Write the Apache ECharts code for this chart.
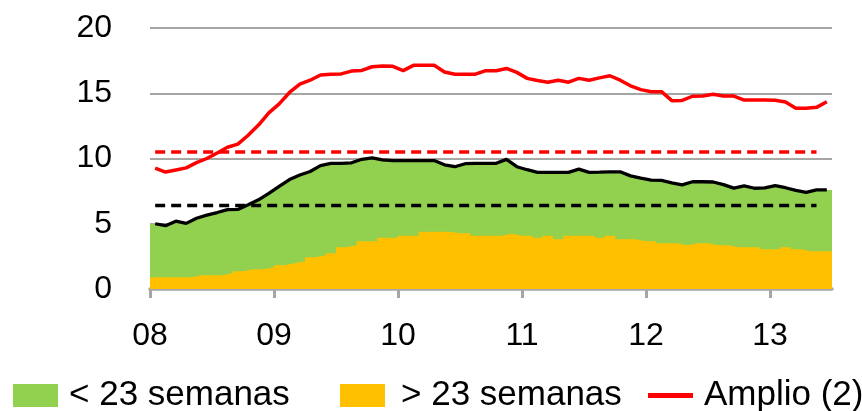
<!DOCTYPE html>
<html>
<head>
<meta charset="utf-8">
<script src="https://cdn.jsdelivr.net/npm/echarts@6/dist/echarts.min.js"></script>
<style>
  html, body { margin: 0; padding: 0; background: #fff; }
  #chart { width: 862px; height: 411px; }
</style>
</head>
<body>
<div id="chart"></div>
<script>
// datos mensuales, ene 2008 - jun 2013
var startYear = 2008;
var endYear = 2013.5;
var years = [2008, 2009, 2010, 2011, 2012, 2013];
var yearLabels = ['08', '09', '10', '11', '12', '13'];

// total (< 23 + > 23 semanas), linea negra
var total = [5.0, 4.85, 5.2, 5.03, 5.42, 5.66, 5.86, 6.08, 6.1, 6.46,
  6.83, 7.33, 7.86, 8.39, 8.74, 9.0, 9.45, 9.62, 9.63, 9.67,
  9.94, 10.05, 9.89, 9.84, 9.84, 9.84, 9.84, 9.84, 9.52, 9.37,
  9.6, 9.63, 9.63, 9.63, 9.93, 9.37, 9.14, 8.94, 8.94, 8.94,
  8.94, 9.19, 8.94, 8.95, 8.97, 8.98, 8.67, 8.5, 8.35, 8.32,
  8.14, 7.98, 8.22, 8.22, 8.2, 8.0, 7.73, 7.9, 7.72, 7.75,
  7.92, 7.76, 7.56, 7.4, 7.59, 7.59];

// > 23 semanas
var over23 = [0.9, 0.9, 0.9, 0.9, 1.05, 1.05, 1.05, 1.2, 1.36, 1.51,
  1.51, 1.66, 1.82, 1.97, 2.12, 2.43, 2.58, 2.74, 3.2, 3.35,
  3.66, 3.66, 3.93, 3.93, 4.09, 4.09, 4.39, 4.39, 4.39, 4.27,
  4.27, 4.09, 4.09, 4.09, 4.24, 4.09, 4.09, 3.93, 4.09, 3.81,
  4.09, 4.09, 4.09, 3.93, 4.09, 3.81, 3.81, 3.66, 3.66, 3.5,
  3.5, 3.35, 3.5, 3.5, 3.35, 3.35, 3.2, 3.2, 3.2, 3.04,
  3.04, 3.2, 3.04, 2.89, 2.89, 2.89];

// Amplio (2)
var amplio = [9.26, 8.96, 9.12, 9.28, 9.68, 10.0, 10.42, 10.86, 11.1, 11.78,
  12.56, 13.5, 14.18, 15.06, 15.7, 16.0, 16.4, 16.45, 16.48, 16.7,
  16.75, 17.03, 17.09, 17.06, 16.73, 17.14, 17.14, 17.14, 16.63, 16.45,
  16.45, 16.46, 16.73, 16.73, 16.9, 16.6, 16.14, 15.98, 15.85, 15.99,
  15.85, 16.14, 16.0, 16.18, 16.34, 16.0, 15.57, 15.28, 15.12, 15.12,
  14.43, 14.45, 14.77, 14.79, 14.92, 14.79, 14.78, 14.48, 14.48, 14.48,
  14.46, 14.33, 13.85, 13.85, 13.92, 14.35];

// medias (lineas discontinuas)
var amplioMedia = 10.5;
var totalMedia = 6.4;
var mediaLastMonth = 64;

var GREEN = '#92D050';
var ORANGE = '#FFC000';
var RED = '#FF0000';
var GRAY = '#A6A6A6';
var FONT = 'Liberation Sans';

function monthStart(i) { return startYear + i / 12; }
function monthMid(i) { return startYear + (i + 0.5) / 12; }

var totalLine = total.map(function (v, i) { return [monthMid(i), v]; });
var amplioLine = amplio.map(function (v, i) { return [monthMid(i), v]; });
// area verde: la linea total llevada hasta los bordes del grafico
var greenArea = [[startYear, total[0]]].concat(totalLine, [[endYear, total[total.length - 1]]]);
// area naranja: escalones mensuales
var orangeArea = over23.map(function (v, i) { return [monthStart(i), v]; });
orangeArea.push([endYear, over23[over23.length - 1]]);

function legendBox(name, left, icon, color, h, pad) {
  return {
    data: [{ name: name, icon: icon, itemStyle: { color: color, borderWidth: 0 } }],
    left: left,
    top: 373,
    itemWidth: 45,
    itemHeight: h,
    selectedMode: false,
    textStyle: { fontSize: 35, fontFamily: FONT, color: '#000', padding: [0, 0, 0, pad] }
  };
}

var chart = echarts.init(document.getElementById('chart'), null, { renderer: 'canvas' });

var option = {
  animation: false,
  backgroundColor: '#fff',
  grid: { left: 150, right: 30, top: 28, bottom: 122, containLabel: false },
  legend: [
    legendBox('< 23 semanas', 8, 'rect', GREEN, 23, 6),
    legendBox('> 23 semanas', 335, 'rect', ORANGE, 23, 11),
    legendBox('Amplio (2)', 643, 'rect', RED, 5, 6)
  ],
  xAxis: {
    type: 'value',
    min: startYear,
    max: endYear,
    interval: 1,
    splitLine: { show: false },
    axisLine: { show: true, lineStyle: { color: GRAY, width: 3.5 } },
    axisTick: { show: true, length: 9, customValues: years, lineStyle: { color: GRAY, width: 3 } },
    axisLabel: {
      customValues: years,
      margin: 31,
      fontSize: 32,
      fontFamily: FONT,
      color: '#000',
      formatter: function (v) { return yearLabels[years.indexOf(v)]; }
    }
  },
  yAxis: {
    type: 'value',
    min: 0,
    max: 20,
    interval: 5,
    axisLine: { show: false },
    axisTick: { show: false },
    splitLine: { show: true, lineStyle: { color: GRAY, width: 2 } },
    axisLabel: { margin: 38, fontSize: 32, fontFamily: FONT, color: '#000' }
  },
  series: [
    {
      name: '< 23 semanas',
      type: 'line',
      data: greenArea,
      symbol: 'none',
      z: 1,
      itemStyle: { color: GREEN },
      lineStyle: { width: 0 },
      areaStyle: { color: GREEN, opacity: 1 }
    },
    {
      name: '> 23 semanas',
      type: 'line',
      step: 'end',
      data: orangeArea,
      symbol: 'none',
      z: 2,
      itemStyle: { color: ORANGE },
      lineStyle: { width: 0 },
      areaStyle: { color: ORANGE, opacity: 1 }
    },
    {
      name: 'Total',
      type: 'line',
      data: totalLine,
      symbol: 'none',
      z: 3,
      lineStyle: { color: '#000', width: 3.3 }
    },
    {
      name: 'Media total',
      type: 'line',
      data: [[monthMid(0), totalMedia], [monthMid(mediaLastMonth), totalMedia]],
      symbol: 'none',
      z: 3,
      lineStyle: { color: '#000', width: 3.5, type: [10, 6] }
    },
    {
      name: 'Media amplio',
      type: 'line',
      data: [[monthMid(0), amplioMedia], [monthMid(mediaLastMonth), amplioMedia]],
      symbol: 'none',
      z: 4,
      lineStyle: { color: RED, width: 3.5, type: [10, 6] }
    },
    {
      name: 'Amplio (2)',
      type: 'line',
      data: amplioLine,
      symbol: 'none',
      z: 4,
      itemStyle: { color: RED },
      lineStyle: { color: RED, width: 3.5 }
    }
  ]
};

chart.setOption(option);
</script>
</body>
</html>
